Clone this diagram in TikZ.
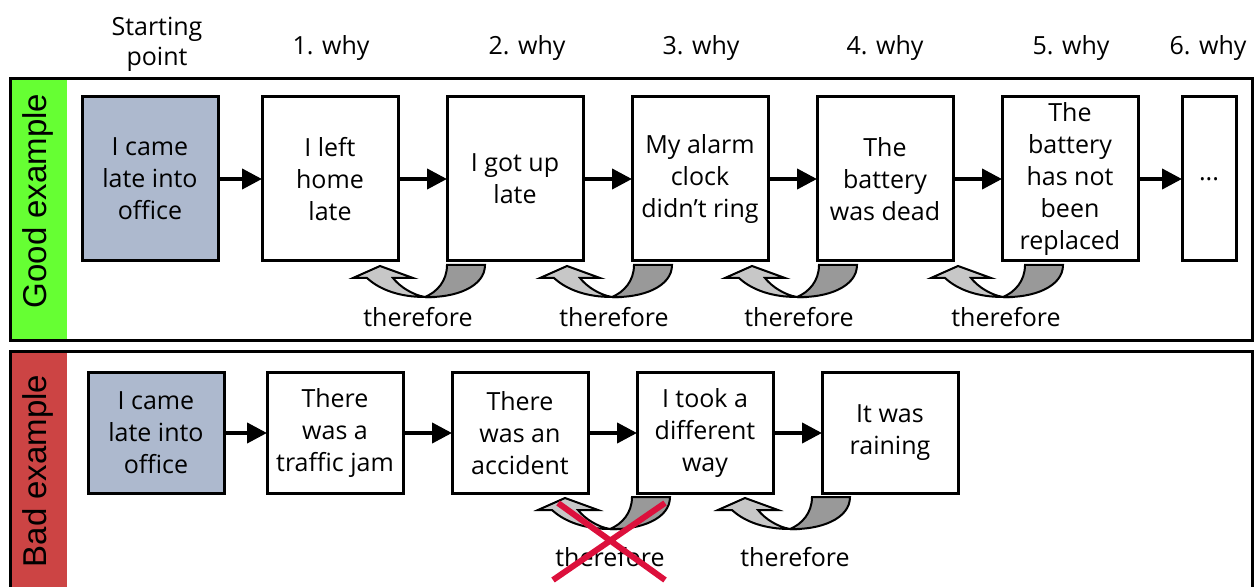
\documentclass[tikz,border=0pt]{standalone}
\usepackage{fontspec}
\setmainfont{Open Sans}
\newfontfamily\sidefont{Liberation Sans}
\usetikzlibrary{arrows.meta}
\definecolor{start}{RGB}{173,185,206}
\definecolor{good}{RGB}{102,255,51}
\definecolor{bad}{RGB}{204,68,68}
\definecolor{cross}{RGB}{220,16,60}
\newcommand{\thus}[2] {
    \begin{scope}[shift={({#1},{#2})},line width=1pt]
        \filldraw[fill=black!40] (60,0) .. controls (60,22) and (30,33) .. (0,32)
            .. controls (12,27) and (22,16) .. (22,0) -- cycle;
        \filldraw[fill=black!22] (0,32) .. controls (-25,32) and (-45,25) .. (-58,13)
            -- (-72,13) -- (-45,1) -- (-12,13) -- (-32,13)
            .. controls (-25,22) and (-12,30) .. (0,32) -- cycle;
    \end{scope}
}
\tikzset{
    txt/.style={font=\fontsize{12.5}{16}\selectfont},
    box/.style={
        txt,
        draw,
        line width=1.5pt,
        minimum width=68pt,
        minimum height=82pt,
        inner sep=0pt,
        outer sep=0pt,
        align=center,
        fill=white
    },
    low/.style={box,minimum height=60pt},
    side/.style={rotate=90,font=\sidefont\fontsize{16.5}{20}\selectfont},
    conn/.style={-{Triangle[length=10pt,width=10pt]},line width=2pt}
}

\begin{document}
\begin{tikzpicture}[x=0.5pt,y=-0.5pt]
    \useasboundingbox (0,0) rectangle (1258,587);
    % panels
    \fill[good] (10,79) rectangle (67,341);
    \draw[line width=1.5pt] (10,79) rectangle (1252,341);
    \fill[bad] (10,352) rectangle (67,600);
    \draw[line width=1.5pt] (10,600) -- (10,352) -- (1252,352) -- (1252,600);
    \node[side] (good) at (38,201) {Good example};
    \node[side] (bad) at (38,471) {Bad example};
    % header
    \node[txt,align=center,font=\fontsize{12.5}{15}\selectfont] (start) at (157,44) {Starting\\point};
    \foreach \x/\n in {331/1,527/2,701/3,885/4,1071/5,1208/6}
        \node[txt,anchor=base] (w\n) at (\x,55) {\n. why};
    % good example
    \node[box,fill=start] (g0) at (150,179) {I came\\late into\\office};
    \node[box] (g1) at (330,179) {I left\\home\\late};
    \node[box] (g2) at (515,179) {I got up\\late};
    \node[box] (g3) at (700,179) {My alarm\\clock\\didn’t ring};
    \node[box] (g4) at (885,179) {The\\battery\\was dead};
    \node[box] (g5) at (1070,179) {The\\battery\\has not\\been\\replaced};
    \node[box,minimum width=27pt] (g6) at (1209,179) {...};
    \foreach \a/\b in {g0/g1,g1/g2,g2/g3,g3/g4,g4/g5,g5/g6}
        \draw[conn] (\a) -- (\b);
    \thus{425}{265}
    \thus{612}{265}
    \thus{797}{265}
    \thus{1003}{265}
    \foreach \x/\n in {418/1,614/2,799/3,1006/4}
        \node[txt,anchor=base] (t\n) at (\x,327) {therefore};
    % bad example
    \node[low,fill=start] (b0) at (156,433) {I came\\late into\\office};
    \node[low] (b1) at (335,433) {There\\was a\\traffic jam};
    \node[low] (b2) at (520,433) {There\\was an\\accident};
    \node[low] (b3) at (705,433) {I took a\\different\\way};
    \node[low] (b4) at (890,433) {It was\\raining};
    \foreach \a/\b in {b0/b1,b1/b2,b2/b3,b3/b4}
        \draw[conn] (\a) -- (\b);
    \thus{610}{497}
    \thus{790}{497}
    \node[txt,anchor=base] (u1) at (610,566) {therefore};
    \node[txt,anchor=base] (u2) at (795,566) {therefore};
    \draw[cross,line width=3pt] (558,503) -- (665,580) (553,580) -- (665,503);
\end{tikzpicture}
\end{document}
